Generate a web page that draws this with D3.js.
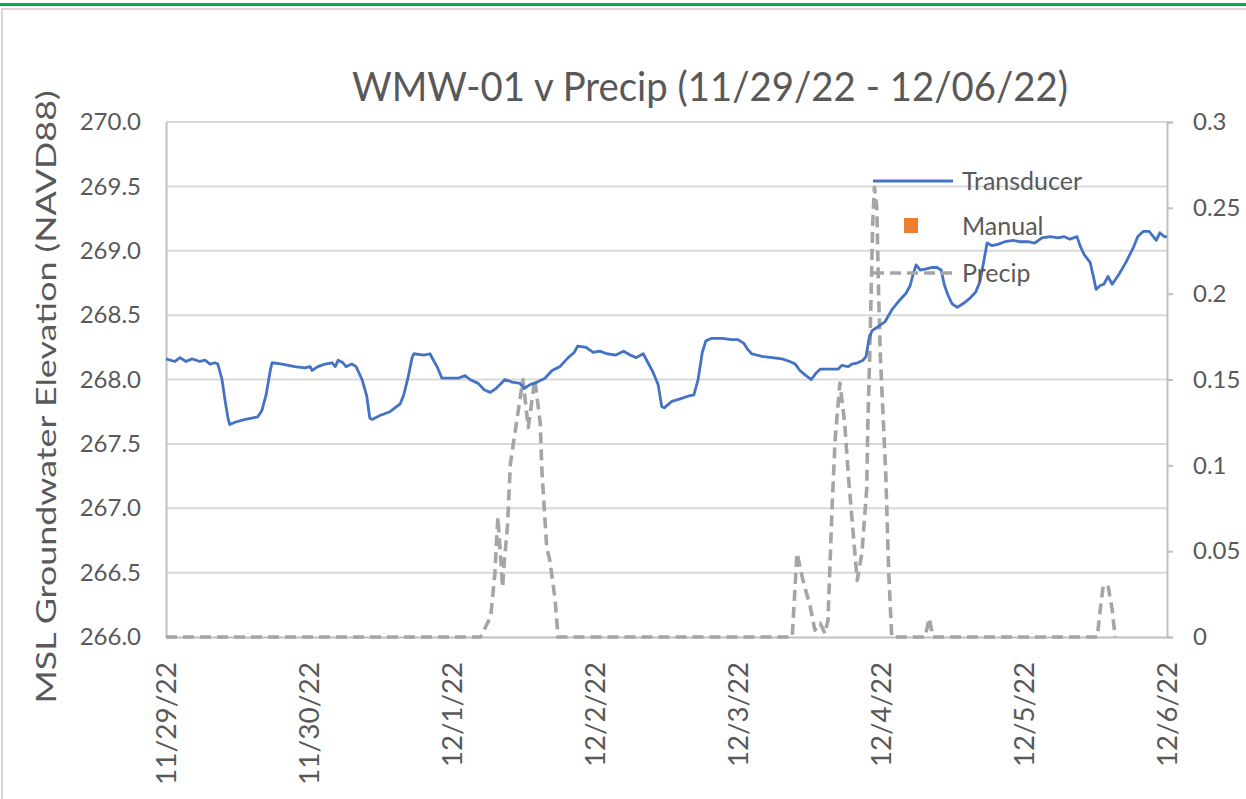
<!DOCTYPE html>
<html>
<head>
<meta charset="utf-8">
<script src="https://cdn.jsdelivr.net/npm/d3@7"></script>
<style>
  html, body { margin: 0; padding: 0; background: #fff; }
  svg { display: block; font-family: Lato, 'Open Sans', sans-serif; }
</style>
</head>
<body>
<svg class="canvas" width="1246" height="799"></svg>
<script>
'use strict';

// Data (hours after 11/29/22 00:00)
const dateLabels = ['11/29/22', '11/30/22', '12/1/22', '12/2/22', '12/3/22', '12/4/22', '12/5/22', '12/6/22'];
const leftTicks = [266, 266.5, 267, 267.5, 268, 268.5, 269, 269.5, 270];
const rightTicks = [0, 0.05, 0.1, 0.15, 0.2, 0.25, 0.3];
const rightTickLabels = ['0', '0.05', '0.1', '0.15', '0.2', '0.25', '0.3'];
const seriesNames = ['Transducer', 'Manual', 'Precip'];

const transducerHours = [0,1.5,2.35,3.36,4.36,5.7,6.55,7.4,8.2,8.7,
  9.4,9.9,10.4,10.7,11.7,13.3,14.4,15.4,16.1,16.8,
  17.5,17.8,19.5,21.6,23.3,24.2,24.5,25.5,26.7,27.9,
  28.4,28.9,29.7,30.2,31.2,31.9,32.9,33.7,34.2,34.6,
  35.9,37.6,39.3,39.9,40.6,41.3,41.6,43.3,44.3,45.0,
  45.6,46.3,47.7,49.0,50.2,51.0,52.4,53.4,54.4,55.4,
  56.9,58.1,59.4,60.1,61.1,62.3,63.6,64.8,66.1,67.5,
  68.5,69.1,70.5,71.7,72.8,74.0,75.5,76.8,77.9,78.9,
  80.1,80.9,81.7,82.6,83.2,83.6,84.9,86.3,87.6,88.6,
  89.3,90.0,90.6,91.6,93.3,95.0,96.0,97.0,97.7,98.3,
  100.0,101.7,103.4,104.7,105.6,106.4,107.4,108.3,109.1,109.8,
  111.4,112.8,113.4,114.5,115.1,116.1,117.0,117.5,118.0,118.5,
  119.5,120.7,121.8,123.2,124.2,124.9,125.4,125.9,126.6,127.6,
  128.6,129.4,130.1,130.6,131.2,131.9,132.8,133.8,134.9,135.9,
  136.6,137.3,137.8,138.6,139.6,140.8,142.2,143.3,144.7,145.8,
  147.0,148.4,149.7,150.7,151.7,152.9,153.4,154.1,155.1,155.6,
  156.1,156.8,157.4,158.1,158.8,159.4,160.1,161.1,162.3,163.1,
  164.0,165.0,165.7,166.2,166.8,167.5,168.0];
const transducerElev = [268.16,268.14,268.17,268.14,268.16,268.14,268.15,268.12,268.13,268.12,
  268.00,267.84,267.70,267.65,267.67,267.69,267.70,267.71,267.76,267.88,
  268.07,268.13,268.12,268.10,268.09,268.10,268.07,268.10,268.12,268.13,
  268.10,268.15,268.13,268.10,268.12,268.10,268.00,267.87,267.70,267.69,
  267.72,267.75,267.81,267.88,268.01,268.17,268.20,268.19,268.20,268.14,
  268.09,268.01,268.01,268.01,268.03,268.00,267.97,267.92,267.90,267.93,
  268.00,267.98,267.97,267.93,267.96,267.98,268.01,268.07,268.10,268.17,
  268.21,268.26,268.25,268.21,268.22,268.20,268.19,268.22,268.19,268.17,
  268.20,268.13,268.06,267.96,267.79,267.78,267.83,267.85,267.87,267.88,
  268.00,268.21,268.30,268.32,268.32,268.31,268.31,268.28,268.23,268.20,
  268.18,268.17,268.16,268.14,268.12,268.07,268.03,268.00,268.05,268.08,
  268.08,268.08,268.11,268.10,268.12,268.13,268.15,268.18,268.32,268.38,
  268.41,268.45,268.54,268.62,268.67,268.73,268.82,268.89,268.85,268.86,
  268.87,268.87,268.85,268.74,268.66,268.59,268.56,268.59,268.63,268.68,
  268.76,268.93,269.06,269.04,269.05,269.07,269.08,269.07,269.07,269.06,
  269.10,269.11,269.10,269.11,269.09,269.11,269.04,268.97,268.91,268.81,
  268.70,268.73,268.74,268.80,268.74,268.78,268.83,268.91,269.02,269.11,
  269.15,269.15,269.11,269.08,269.14,269.11,269.11];

const precipHours = [0,52.8,54.5,55.2,55.7,56.5,56.8,57.3,57.8,59.9,60.8,61.9,62.8,63.1,63.9,64.4,65.3,65.8,
  105.1,105.9,106.9,108.1,108.9,109.8,110.6,111.1,111.8,112.3,113.1,113.9,114.5,115.1,116.0,116.8,117.6,117.8,
  118.1,118.6,118.9,119.3,119.6,119.9,120.8,121.3,121.8,127.4,128.1,128.7,156.3,156.8,157.3,158.1,158.8,159.3,168];
const precipInches = [0,0,0.012,0.037,0.07,0.029,0.045,0.064,0.101,0.15,0.122,0.15,0.125,0.096,0.052,0.045,0.022,0,
  0,0.049,0.033,0.018,0.004,0.008,0.002,0.01,0.076,0.115,0.148,0.125,0.095,0.07,0.033,0.049,0.086,0.125,
  0.163,0.24,0.262,0.25,0.2,0.163,0.095,0.037,0,0,0.011,0,0,0.016,0.03,0.03,0.016,0];

const svg = d3.select('.canvas'),
  plot = { left: 166, right: 1167, top: 122, bottom: 637 },
  textColor = '#595959',
  gridColor = '#d9d9d9',
  start = new Date(2022, 10, 29);

const toDate = h => new Date(start.getTime() + h * 3600 * 1000);

const x = d3.scaleTime()
  .domain([start, new Date(2022, 11, 6)])
  .range([plot.left, plot.right]);
const yLeft = d3.scaleLinear().domain([266, 270]).range([plot.bottom, plot.top]);
const yRight = d3.scaleLinear().domain([0, 0.3]).range([plot.bottom, plot.top]);

// page frame
svg.append('rect').attr('width', 1246).attr('height', 799).attr('fill', '#fff');
svg.append('rect').attr('x', 0).attr('y', 3).attr('width', 1246).attr('height', 3).attr('fill', '#00b050');
svg.append('path').attr('d', 'M2,799V9H1246').attr('fill', 'none').attr('stroke', '#d6d6d6').attr('stroke-width', 2);

// gridlines
svg.append('g')
  .selectAll('line')
  .data(leftTicks.slice(1))
  .enter()
  .append('line')
  .attr('x1', plot.left).attr('x2', plot.right)
  .attr('y1', d => yLeft(d)).attr('y2', d => yLeft(d))
  .attr('stroke', gridColor).attr('stroke-width', 2);

// left axis
const leftAxis = svg.append('g')
  .attr('transform', `translate(${plot.left},0)`)
  .call(d3.axisLeft(yLeft).tickValues(leftTicks).tickSize(0).tickPadding(25).tickFormat(d3.format('.1f')));
leftAxis.select('.domain').attr('stroke', '#bfbfbf').attr('stroke-width', 2);
leftAxis.selectAll('text').attr('fill', textColor).style('font-size', '24px').style('font-family', 'Lato');

// right axis
const rightAxis = svg.append('g')
  .attr('transform', `translate(${plot.right},0)`)
  .call(d3.axisRight(yRight).tickValues(rightTicks).tickSize(6).tickPadding(20)
    .tickFormat((d, i) => rightTickLabels[i]));
rightAxis.select('.domain').attr('stroke', '#bfbfbf').attr('stroke-width', 2);
rightAxis.selectAll('line').attr('stroke', '#bfbfbf').attr('stroke-width', 2);
rightAxis.selectAll('text').attr('fill', textColor).style('font-size', '24px').style('font-family', 'Lato');

// bottom axis
const bottomAxis = svg.append('g')
  .attr('transform', `translate(0,${plot.bottom})`)
  .call(d3.axisBottom(x).ticks(d3.timeDay.every(1)).tickSize(0).tickFormat((d, i) => dateLabels[i]));
bottomAxis.select('.domain').attr('stroke', '#bfbfbf').attr('stroke-width', 2);
bottomAxis.selectAll('text')
  .attr('fill', textColor)
  .style('font-size', '26px')
  .style('font-family', 'Lato')
  .attr('text-anchor', 'end')
  .attr('transform', 'rotate(-90)')
  .attr('x', -25)
  .attr('y', 0)
  .attr('dy', '0.35em')
  .attr('textLength', (d, i) => dateLabels[i].length === 8 ? 123 : 105)
  .attr('lengthAdjust', 'spacingAndGlyphs');

// precip line (right axis)
const precipLine = d3.line()
  .x((h, i) => x(toDate(h)))
  .y((h, i) => yRight(precipInches[i]));
svg.append('path')
  .datum(precipHours)
  .attr('d', precipLine)
  .attr('fill', 'none')
  .attr('stroke', '#a5a5a5')
  .attr('stroke-width', 3.6)
  .attr('stroke-dasharray', '11,6')
  .attr('stroke-linejoin', 'round');

// transducer line (left axis)
const transducerLine = d3.line()
  .x((h, i) => x(toDate(h)))
  .y((h, i) => yLeft(transducerElev[i]));
svg.append('path')
  .datum(transducerHours)
  .attr('d', transducerLine)
  .attr('fill', 'none')
  .attr('stroke', '#4472c4')
  .attr('stroke-width', 2.8)
  .attr('stroke-linejoin', 'round');

// title
svg.append('text')
  .attr('x', 710)
  .attr('y', 101)
  .attr('text-anchor', 'middle')
  .attr('fill', textColor)
  .style('font-size', '40px')
  .attr('textLength', 716)
  .attr('lengthAdjust', 'spacingAndGlyphs')
  .text('WMW-01 v Precip (11/29/22 - 12/06/22)');

// y axis title
svg.append('text')
  .attr('transform', 'translate(56,397) rotate(-90)')
  .attr('text-anchor', 'middle')
  .attr('fill', textColor)
  .style('font-size', '27px')
  .attr('textLength', 613)
  .attr('lengthAdjust', 'spacingAndGlyphs')
  .text('MSL Groundwater Elevation (NAVD88)');

// legend
const legendY = [181, 226, 273];
const legend = svg.append('g');
legend.append('line')
  .attr('x1', 873).attr('x2', 953).attr('y1', legendY[0]).attr('y2', legendY[0])
  .attr('stroke', '#4472c4').attr('stroke-width', 2.8);
legend.append('rect')
  .attr('x', 904).attr('y', legendY[1] - 8).attr('width', 14).attr('height', 15)
  .attr('fill', '#ed7d31');
legend.append('line')
  .attr('x1', 873).attr('x2', 953).attr('y1', legendY[2]).attr('y2', legendY[2])
  .attr('stroke', '#a5a5a5').attr('stroke-width', 3.6).attr('stroke-dasharray', '11,6');
legend.selectAll('.legend-label')
  .data(seriesNames)
  .enter()
  .append('text')
  .attr('class', 'legend-label')
  .attr('x', 962)
  .attr('y', (d, i) => legendY[i])
  .attr('dy', '0.35em')
  .attr('fill', textColor)
  .style('font-size', '25px')
  .text(d => d);
</script>
</body>
</html>
